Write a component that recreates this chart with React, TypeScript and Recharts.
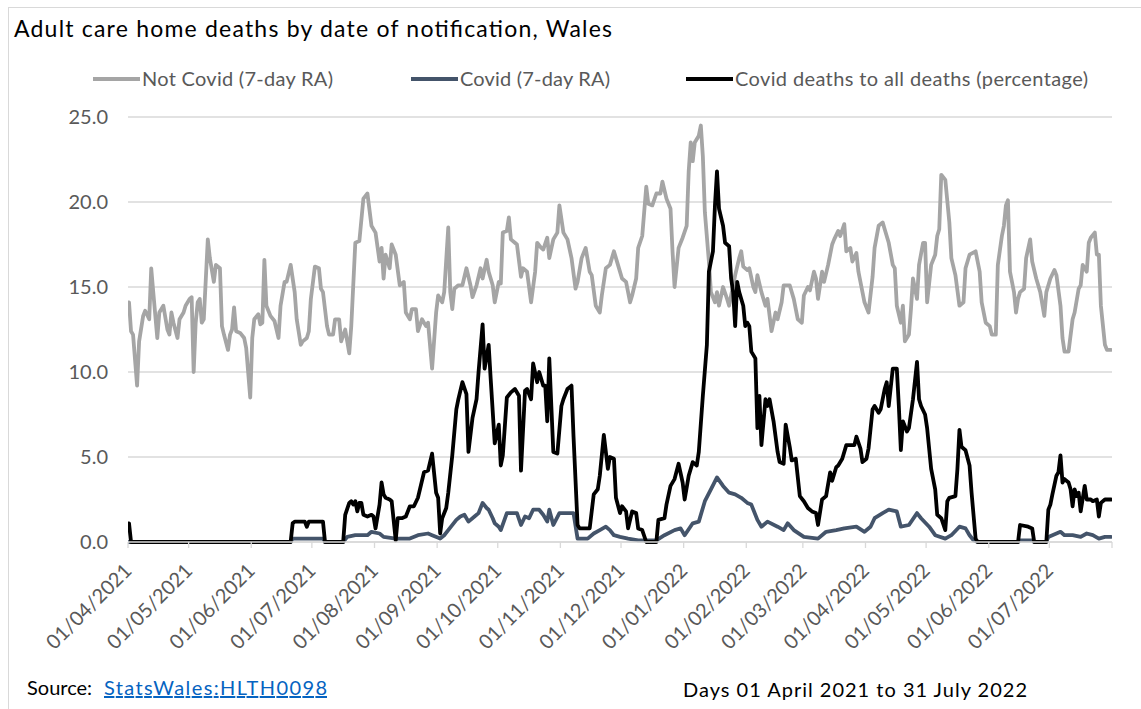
import { CartesianGrid, Line, LineChart, XAxis, YAxis } from "recharts";

// [day index from 01/04/2021, value]
const NOT_COVID: [number, number][] = [
  [0, 14.1], [1, 12.4], [2, 12.2], [4, 9.2], [5, 11.8], [7, 13.3], [8, 13.6], [10, 13.1], [11, 16.1], [12, 14.7],
  [14, 12.0], [15, 13.5], [17, 13.9], [19, 12.5], [20, 12.2], [21, 13.5], [22, 12.9], [24, 12.0], [25, 13.1], [27, 13.5],
  [28, 13.9], [30, 14.3], [31, 14.4], [32, 10.0], [33, 12.9], [34, 14.1], [35, 14.3], [36, 12.9], [37, 13.1], [39, 17.8],
  [40, 16.7], [42, 15.3], [43, 16.3], [45, 16.1], [46, 12.7], [47, 12.2], [49, 11.3], [50, 12.2], [51, 12.5], [52, 13.8],
  [53, 12.4], [55, 12.3], [57, 12.0], [58, 11.4], [60, 8.5], [61, 12.0], [62, 13.1], [64, 13.4], [65, 12.8], [66, 12.9],
  [67, 16.6], [68, 13.9], [70, 13.3], [72, 13.0], [74, 12.0], [75, 13.9], [77, 15.3], [78, 15.3], [80, 16.3], [82, 14.7],
  [83, 13.1], [85, 11.6], [86, 11.8], [88, 12.0], [89, 12.4], [90, 14.3], [92, 16.2], [94, 16.1], [95, 14.9], [96, 14.7],
  [98, 12.7], [99, 12.2], [101, 12.2], [102, 13.1], [104, 13.1], [105, 11.8], [107, 12.5], [109, 11.1], [110, 12.7], [112, 17.6],
  [114, 17.7], [116, 20.2], [118, 20.5], [120, 18.6], [122, 18.2], [124, 16.5], [125, 17.3], [126, 15.5], [127, 16.9], [129, 16.1],
  [130, 17.5], [132, 16.9], [134, 15.1], [136, 15.3], [137, 13.5], [139, 13.1], [140, 13.7], [142, 13.7], [143, 12.4], [145, 13.1],
  [147, 12.7], [148, 12.9], [150, 10.2], [152, 13.5], [153, 14.5], [155, 14.1], [156, 14.7], [158, 18.5], [159, 14.7], [160, 13.7],
  [161, 14.9], [163, 15.1], [165, 15.1], [167, 16.1], [169, 15.1], [170, 14.4], [172, 15.1], [174, 16.1], [175, 15.5], [177, 16.6],
  [178, 15.9], [180, 15.1], [181, 14.1], [183, 15.3], [184, 15.2], [185, 18.2], [187, 18.3], [188, 19.1], [189, 17.8], [191, 17.6],
  [192, 17.5], [194, 15.6], [195, 16.1], [197, 15.9], [199, 14.1], [201, 15.9], [202, 17.6], [204, 17.3], [205, 17.2], [207, 17.9],
  [208, 16.7], [210, 17.8], [212, 18.2], [213, 19.8], [215, 18.2], [217, 17.8], [219, 16.7], [221, 14.9], [222, 15.3], [224, 16.7],
  [226, 17.3], [228, 15.9], [229, 15.7], [231, 13.9], [233, 13.5], [234, 14.5], [236, 16.1], [238, 16.3], [240, 17.1], [242, 16.3],
  [244, 15.5], [246, 15.3], [248, 14.1], [249, 14.5], [251, 15.5], [252, 17.3], [254, 18.0], [256, 20.9], [257, 19.9], [259, 19.8],
  [261, 20.5], [263, 20.5], [264, 21.2], [266, 20.2], [268, 19.6], [269, 17.1], [270, 15.0], [272, 17.3], [274, 17.9], [276, 18.6],
  [277, 21.8], [278, 23.5], [279, 22.4], [280, 23.5], [282, 23.9], [283, 24.5], [284, 22.7], [285, 19.4], [287, 16.5], [288, 14.7],
  [290, 14.1], [291, 14.7], [292, 13.9], [294, 15.0], [296, 14.3], [297, 13.9], [299, 15.1], [300, 15.7], [302, 16.7], [303, 17.1],
  [304, 16.2], [306, 16.0], [307, 16.1], [309, 15.0], [310, 14.7], [311, 15.7], [313, 14.7], [315, 13.9], [316, 14.3], [318, 12.4],
  [320, 13.5], [321, 13.1], [323, 14.1], [324, 15.1], [327, 15.1], [329, 14.3], [331, 13.1], [333, 12.9], [334, 14.5], [336, 15.0],
  [337, 14.8], [339, 15.9], [340, 15.5], [341, 14.3], [343, 15.9], [344, 15.3], [346, 16.3], [348, 17.5], [349, 17.8], [351, 18.3],
  [352, 18.0], [354, 18.7], [355, 17.1], [357, 17.3], [358, 16.5], [360, 17.0], [361, 15.9], [363, 14.7], [364, 14.1], [366, 13.5],
  [368, 15.6], [369, 17.3], [371, 18.6], [373, 18.8], [374, 18.4], [376, 17.6], [378, 16.3], [379, 16.1], [380, 13.9], [382, 12.9],
  [383, 13.9], [384, 11.8], [386, 12.2], [387, 13.7], [388, 15.5], [390, 14.3], [391, 16.3], [393, 17.6], [394, 17.6], [395, 14.1],
  [397, 16.3], [399, 16.9], [400, 18.0], [401, 18.4], [402, 21.6], [404, 21.3], [406, 18.8], [407, 16.7], [409, 15.7], [411, 13.9],
  [413, 14.1], [414, 16.1], [416, 16.9], [419, 17.1], [421, 15.9], [422, 14.1], [424, 12.9], [426, 12.7], [427, 12.2], [429, 12.2],
  [430, 16.3], [432, 18.0], [433, 18.6], [434, 19.8], [435, 20.1], [436, 15.9], [438, 14.7], [439, 13.5], [440, 14.3], [441, 14.7],
  [443, 14.9], [444, 16.7], [446, 17.8], [447, 16.5], [449, 15.5], [451, 14.7], [453, 13.3], [454, 14.7], [456, 15.5], [458, 16.0],
  [459, 15.7], [461, 13.9], [462, 12.0], [463, 11.2], [465, 11.2], [467, 13.1], [468, 13.5], [470, 14.9], [471, 15.1], [472, 16.3],
  [474, 15.9], [475, 17.6], [476, 17.9], [478, 18.2], [479, 16.9], [480, 16.9], [481, 13.9], [483, 11.6], [484, 11.3], [486, 11.3],
];

const COVID: [number, number][] = [
  [0, 0], [80, 0], [81, 0.2], [96, 0.2], [97, 0], [106, 0], [108, 0.3], [112, 0.4], [118, 0.4], [120, 0.6],
  [124, 0.5], [126, 0.3], [132, 0.2], [139, 0.2], [143, 0.4], [148, 0.5], [150, 0.4], [154, 0.2], [156, 0.4], [158, 0.7],
  [162, 1.3], [164, 1.5], [166, 1.6], [168, 1.2], [171, 1.5], [173, 1.7], [175, 2.3], [177, 2.0], [178, 1.9], [180, 1.4],
  [181, 1.1], [183, 0.9], [184, 0.7], [187, 1.7], [192, 1.7], [194, 1.0], [196, 1.5], [198, 1.4], [200, 1.9], [203, 1.9],
  [205, 1.6], [207, 1.2], [208, 1.9], [210, 1.0], [213, 1.7], [220, 1.7], [222, 0.2], [227, 0.2], [230, 0.5], [233, 0.7],
  [236, 0.9], [238, 0.7], [240, 0.4], [243, 0.3], [247, 0.2], [252, 0.1], [261, 0.1], [265, 0.4], [270, 0.7], [273, 0.8],
  [275, 0.4], [279, 1.1], [282, 1.2], [285, 2.4], [288, 3.1], [291, 3.8], [294, 3.3], [297, 2.9], [300, 2.8], [303, 2.6],
  [306, 2.3], [308, 2.2], [311, 1.3], [313, 0.9], [316, 1.2], [321, 0.9], [324, 0.7], [326, 1.1], [329, 0.7], [334, 0.3],
  [341, 0.2], [345, 0.6], [350, 0.7], [354, 0.8], [360, 0.9], [364, 0.6], [367, 0.9], [369, 1.4], [373, 1.7], [376, 1.9],
  [380, 1.8], [382, 0.9], [386, 1.0], [390, 1.7], [392, 1.4], [396, 0.9], [399, 0.4], [404, 0.2], [407, 0.4], [411, 0.9],
  [414, 0.8], [416, 0.4], [418, 0.1], [420, 0], [440, 0], [441, 0.1], [447, 0.1], [448, 0], [454, 0], [455, 0.3],
  [461, 0.6], [463, 0.4], [467, 0.4], [471, 0.3], [474, 0.5], [477, 0.4], [480, 0.2], [483, 0.3], [486, 0.3],
];

const COVID_PCT: [number, number][] = [
  [0, 1.1], [1, 0], [80, 0], [81, 1.1], [82, 1.2], [87, 1.2], [88, 0.9], [89, 1.2], [96, 1.2], [97, 0],
  [106, 0], [107, 1.6], [109, 2.3], [110, 2.4], [111, 2.2], [112, 2.4], [113, 1.8], [114, 2.3], [115, 2.3], [116, 1.6],
  [118, 1.5], [120, 1.6], [121, 1.5], [122, 0.8], [124, 2.2], [125, 3.5], [126, 2.8], [127, 2.6], [129, 2.5], [130, 2.4],
  [132, 0.1], [133, 1.4], [135, 1.4], [137, 1.5], [139, 2.1], [141, 2.1], [143, 2.6], [144, 3.1], [146, 4.1], [148, 4.2],
  [150, 5.2], [152, 2.9], [153, 2.6], [154, 0.5], [155, 1.4], [157, 2.0], [158, 2.9], [160, 5.1], [162, 7.8], [163, 8.4],
  [165, 9.4], [167, 8.7], [168, 5.3], [170, 7.3], [172, 8.4], [173, 10.0], [175, 12.8], [176, 10.2], [178, 11.6], [179, 9.6],
  [181, 5.8], [183, 6.9], [184, 4.5], [185, 5.1], [187, 8.5], [189, 8.8], [191, 9.0], [193, 8.6], [194, 4.2], [196, 8.9],
  [197, 9.0], [199, 8.4], [200, 10.5], [202, 9.4], [203, 10.0], [205, 9.2], [206, 9.2], [207, 7.1], [208, 10.8], [210, 5.3],
  [212, 5.2], [214, 8.0], [215, 8.4], [217, 9.0], [219, 9.2], [220, 6.2], [222, 1.0], [223, 0.8], [228, 0.8], [230, 2.8],
  [232, 3.1], [233, 3.9], [235, 6.3], [237, 4.3], [238, 5.0], [240, 4.9], [241, 2.6], [243, 1.7], [244, 2.1], [246, 1.8],
  [247, 0.8], [249, 1.8], [251, 1.7], [252, 0.8], [254, 0.7], [256, 0], [261, 0], [262, 1.3], [265, 1.4], [266, 2.2],
  [268, 3.3], [270, 3.7], [272, 4.6], [274, 3.5], [275, 2.5], [277, 3.9], [279, 4.7], [281, 4.5], [282, 5.3], [284, 8.6],
  [286, 11.6], [287, 15.9], [289, 17.1], [290, 19.8], [291, 21.8], [292, 19.6], [294, 18.6], [295, 17.6], [297, 17.4], [298, 15.5],
  [299, 14.7], [300, 12.7], [301, 15.3], [302, 14.7], [304, 13.9], [305, 12.7], [306, 12.9], [307, 12.7], [308, 11.2], [310, 10.8],
  [311, 6.7], [312, 8.6], [313, 5.7], [315, 8.4], [316, 8.0], [317, 8.4], [319, 7.1], [321, 5.3], [322, 4.7], [324, 4.6],
  [325, 6.9], [327, 5.6], [328, 4.8], [330, 4.9], [332, 2.7], [334, 2.4], [336, 2.0], [338, 1.8], [340, 1.7], [341, 1.0],
  [343, 2.5], [345, 2.7], [347, 4.1], [348, 3.6], [350, 4.4], [351, 4.5], [353, 4.9], [355, 5.7], [357, 5.7], [359, 5.7],
  [360, 6.2], [362, 5.5], [363, 4.7], [365, 4.9], [366, 5.5], [368, 7.8], [369, 8.0], [371, 7.6], [372, 7.8], [374, 9.0],
  [375, 9.4], [376, 8.0], [378, 10.2], [380, 10.2], [381, 8.0], [382, 5.4], [383, 7.1], [385, 6.5], [386, 6.7], [388, 8.4],
  [390, 10.6], [391, 8.4], [392, 8.0], [394, 7.5], [395, 6.7], [397, 4.3], [399, 3.1], [400, 1.6], [402, 1.4], [404, 0.7],
  [405, 2.4], [406, 2.6], [409, 2.7], [410, 4.3], [411, 6.6], [412, 5.6], [414, 5.4], [416, 4.5], [417, 2.9], [419, 0.2],
  [420, 0], [440, 0], [441, 1.0], [445, 0.9], [447, 0.8], [448, 0], [454, 0], [455, 1.9], [456, 2.2], [457, 2.8],
  [459, 3.9], [460, 4.1], [461, 5.1], [462, 3.5], [463, 3.7], [465, 3.5], [466, 3.1], [467, 2.1], [468, 3.1], [469, 2.7],
  [470, 2.9], [471, 1.8], [473, 3.3], [474, 2.5], [476, 2.5], [477, 2.4], [479, 2.5], [480, 1.5], [481, 2.3], [483, 2.5],
  [486, 2.5],
];

// first day of each month, counted from 01/04/2021
const MONTH_START = [0, 30, 61, 91, 122, 153, 183, 214, 244, 275, 306, 334, 365, 395, 426, 456];
const MONTH_LABELS = [
  "01/04/2021", "01/05/2021", "01/06/2021", "01/07/2021", "01/08/2021", "01/09/2021", "01/10/2021", "01/11/2021",
  "01/12/2021", "01/01/2022", "01/02/2022", "01/03/2022", "01/04/2022", "01/05/2022", "01/06/2022", "01/07/2022",
];
const Y_TICKS = [0, 5, 10, 15, 20, 25];
const LAST_DAY = 486;

const toRows = (pairs: [number, number][]) => pairs.map(([day, value]) => ({ day, value }));

const X_TICKS = [...MONTH_START.map((d) => d - 0.5), LAST_DAY + 0.5];
const TICK_LABEL: Record<string, string> = {};
MONTH_START.forEach((d, i) => {
  TICK_LABEL[(d - 0.5).toFixed(1)] = MONTH_LABELS[i];
});

const FONT = "Lato, 'Open Sans', sans-serif";
const GREY = "#a5a5a5";
const SLATE = "#44546a";
const BLACK = "#000000";
const AXIS_TEXT = "#595959";
const LINE_W = 3.8;

function XTick(props: any) {
  const { x, y, payload } = props;
  const label = TICK_LABEL[Number(payload.value).toFixed(1)];
  if (!label) return null;
  const px = x + 5;
  const py = y + 22;
  return (
    <text
      x={px}
      y={py}
      transform={`rotate(-45, ${px}, ${py})`}
      textAnchor="end"
      fill={AXIS_TEXT}
      fontSize={20}
      fontFamily={FONT}
    >
      {label}
    </text>
  );
}

const LEGEND = [
  { label: "Not Covid (7-day RA)", color: GREY, x: 142, width: 191 },
  { label: "Covid (7-day RA)", color: SLATE, x: 460, width: 150 },
  { label: "Covid deaths to all deaths (percentage)", color: BLACK, x: 735, width: 353 },
];

export default function App() {
  return (
    <div
      style={{
        position: "fixed",
        left: 0,
        top: 0,
        width: 1141,
        height: 709,
        overflow: "hidden",
        background: "#ffffff",
        fontFamily: FONT,
      }}
    >
      <div
        style={{
          position: "absolute",
          left: 8,
          top: 7,
          width: 1300,
          height: 900,
          border: "1px solid #d9d9d9",
        }}
      />
      <div style={{ position: "absolute", left: 0, top: 0 }}>
        <LineChart width={1141} height={709} margin={{ top: 117, right: 29, left: 0, bottom: 67 }}>
          <CartesianGrid vertical={false} stroke="#d9d9d9" strokeWidth={1.3} />
          <XAxis
            type="number"
            dataKey="day"
            domain={[-0.5, LAST_DAY + 0.5]}
            ticks={X_TICKS}
            interval={0}
            allowDataOverflow
            axisLine={{ stroke: "#d9d9d9", strokeWidth: 1.3 }}
            tickLine={{ stroke: "#d9d9d9", strokeWidth: 1.3 }}
            tickSize={6}
            tick={<XTick />}
            height={100}
          />
          <YAxis
            domain={[0, 25]}
            ticks={Y_TICKS}
            interval={0}
            tickFormatter={(v) => Number(v).toFixed(1)}
            axisLine={false}
            tickLine={false}
            tickSize={0}
            tickMargin={20}
            width={128}
            tick={{ fill: AXIS_TEXT, fontSize: 20, fontFamily: FONT }}
          />
          <Line
            data={toRows(NOT_COVID)}
            dataKey="value"
            type="linear"
            stroke={GREY}
            strokeWidth={LINE_W}
            strokeLinejoin="round"
            strokeLinecap="round"
            dot={false}
            activeDot={false}
            isAnimationActive={false}
          />
          <Line
            data={toRows(COVID)}
            dataKey="value"
            type="linear"
            stroke={SLATE}
            strokeWidth={LINE_W}
            strokeLinejoin="round"
            strokeLinecap="round"
            dot={false}
            activeDot={false}
            isAnimationActive={false}
          />
          <Line
            data={toRows(COVID_PCT)}
            dataKey="value"
            type="linear"
            stroke={BLACK}
            strokeWidth={LINE_W}
            strokeLinejoin="round"
            strokeLinecap="round"
            dot={false}
            activeDot={false}
            isAnimationActive={false}
          />
        </LineChart>
      </div>
      <svg
        width={1141}
        height={709}
        style={{ position: "absolute", left: 0, top: 0, pointerEvents: "none" }}
      >
        <text x={14} y={37} fontSize={23} fontFamily={FONT} fill="#000" textLength={598} lengthAdjust="spacing">
          Adult care home deaths by date of notification, Wales
        </text>
        {LEGEND.map((item) => (
          <g key={item.label}>
            <line x1={item.x - 49} x2={item.x - 2} y1={79} y2={79} stroke={item.color} strokeWidth={LINE_W} />
            <text
              x={item.x}
              y={86}
              fontSize={20}
              fontFamily={FONT}
              fill={AXIS_TEXT}
              textLength={item.width}
              lengthAdjust="spacing"
            >
              {item.label}
            </text>
          </g>
        ))}
        <text x={27} y={695} fontSize={20} fontFamily={FONT} fill="#000">
          Source:
        </text>
        <text
          x={104}
          y={695}
          fontSize={20}
          fontFamily={FONT}
          fill="#0563C1"
          textDecoration="underline"
          textLength={223}
          lengthAdjust="spacing"
        >
          StatsWales:HLTH0098
        </text>
        <text x={683} y={697} fontSize={20} fontFamily={FONT} fill="#000" textLength={344} lengthAdjust="spacing">
          Days 01 April 2021 to 31 July 2022
        </text>
      </svg>
    </div>
  );
}
